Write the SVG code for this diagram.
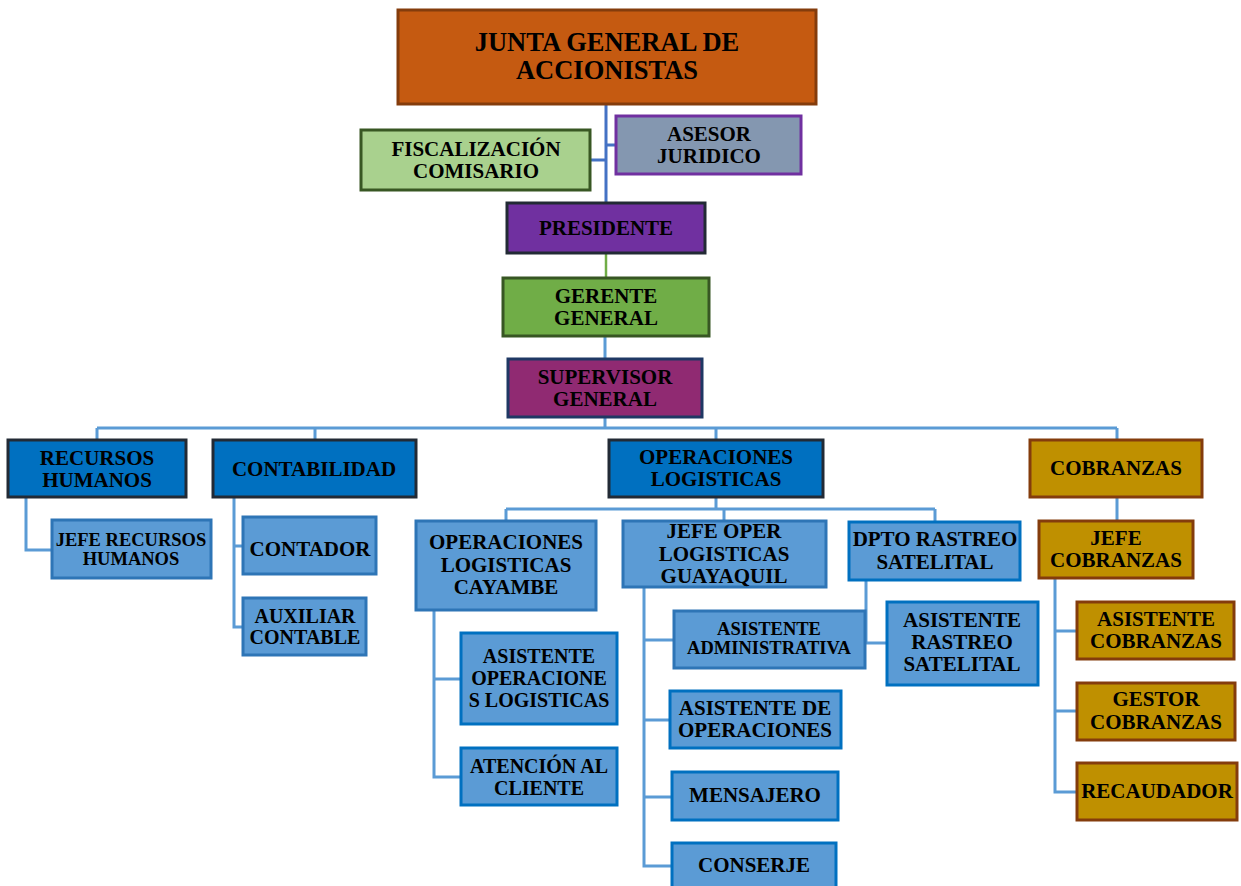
<svg xmlns="http://www.w3.org/2000/svg" width="1241" height="886" viewBox="0 0 1241 886">
<style>
text{font-family:"Liberation Serif","Times New Roman",serif;font-weight:bold;fill:#000;text-anchor:middle;font-size:21px}
.big{font-size:26.5px}
.sm{font-size:18.5px}
.md{font-size:20px}
rect{stroke-width:3}
.c{fill:none;stroke:#5B9BD5;stroke-width:3}
.ct{fill:none;stroke:#4472C4;stroke-width:3}
.cg{fill:none;stroke:#70AD47;stroke-width:2.5}
.hd{fill:#0070C0;stroke:#222A35}
.ch{fill:#5B9BD5;stroke:#2E75B6}
.cb{fill:#5B9BD5;stroke:#0070C0}
.gold{fill:#BF9000;stroke:#843C0C}
</style>
<rect width="1241" height="886" fill="#fff" stroke="none"/>
<g id="connectors">
<path class="ct" d="M606 104V203M606 145H616M590 160H606"/>
<path class="cg" d="M606 253V278"/>
<path class="c" d="M605 336V359M605 417V428M97 428H1117M97 428V440M315 428V440M716 428V440M1117 428V440"/>
<path class="c" d="M26 497V550H52"/>
<path class="c" d="M234 497V627H243M234 546H243"/>
<path class="c" d="M716 497V509M506 509H935M506 509V521M724 509V521M935 509V522"/>
<path class="c" d="M434 610V777H461M434 679H461"/>
<path class="c" d="M644 587V866H672M644 640H674M644 720H670M644 797H672"/>
<path class="c" d="M866 580V643H887"/>
<path class="c" d="M1117 497V521M1055 578V792H1077M1055 631H1077M1055 711H1077"/>
</g>
<g id="junta"><rect x="398" y="10" width="418" height="94" fill="#C55A11" stroke="#843C0C"/><text class="big" x="607" y="51">JUNTA GENERAL DE</text><text class="big" x="607" y="79">ACCIONISTAS</text></g>
<g id="fiscalizacion"><rect x="361" y="130" width="229" height="60" fill="#A9D18E" stroke="#385723"/><text x="476" y="156">FISCALIZACIÓN</text><text x="476" y="178">COMISARIO</text></g>
<g id="asesor"><rect x="616" y="116" width="185" height="58" fill="#8497B0" stroke="#7030A0"/><text x="709" y="141">ASESOR</text><text x="709" y="163">JURIDICO</text></g>
<g id="presidente"><rect x="507" y="203" width="198" height="50" fill="#7030A0" stroke="#222A35"/><text x="606" y="235">PRESIDENTE</text></g>
<g id="gerente"><rect x="503" y="278" width="206" height="58" fill="#70AD47" stroke="#375623"/><text x="606" y="303">GERENTE</text><text x="606" y="325">GENERAL</text></g>
<g id="supervisor"><rect x="508" y="359" width="194" height="58" fill="#902A72" stroke="#1F3864"/><text x="605" y="384">SUPERVISOR</text><text x="605" y="406">GENERAL</text></g>
<g id="rrhh"><rect x="8" y="440" width="178" height="57" class="hd"/><text x="97" y="465">RECURSOS</text><text x="97" y="487">HUMANOS</text></g>
<g id="contabilidad"><rect x="213" y="440" width="203" height="57" class="hd"/><text x="314" y="476">CONTABILIDAD</text></g>
<g id="operaciones"><rect x="609" y="440" width="214" height="57" class="hd"/><text x="716" y="464">OPERACIONES</text><text x="716" y="486">LOGISTICAS</text></g>
<g id="cobranzas"><rect x="1030" y="440" width="172" height="57" class="gold"/><text x="1116" y="475">COBRANZAS</text></g>
<g id="jeferh"><rect x="52" y="520" width="159" height="58" class="ch"/><text class="sm" x="131" y="546">JEFE RECURSOS</text><text class="sm" x="131" y="565">HUMANOS</text></g>
<g id="contador"><rect x="243" y="517" width="133" height="57" class="ch"/><text x="310" y="556">CONTADOR</text></g>
<g id="auxiliar"><rect x="243" y="598" width="123" height="57" class="ch"/><text class="md" x="305" y="623">AUXILIAR</text><text class="md" x="305" y="644">CONTABLE</text></g>
<g id="cayambe"><rect x="416" y="521" width="180" height="89" class="ch"/><text x="506" y="549">OPERACIONES</text><text x="506" y="572">LOGISTICAS</text><text x="506" y="594">CAYAMBE</text></g>
<g id="guayaquil"><rect x="623" y="521" width="203" height="66" class="ch"/><text x="724" y="538">JEFE OPER</text><text x="724" y="561">LOGISTICAS</text><text x="724" y="583">GUAYAQUIL</text></g>
<g id="rastreo"><rect x="849" y="522" width="171" height="58" class="cb"/><text x="935" y="546">DPTO RASTREO</text><text x="935" y="569">SATELITAL</text></g>
<g id="jefecob"><rect x="1039" y="521" width="154" height="57" class="gold"/><text x="1116" y="545">JEFE</text><text x="1116" y="567">COBRANZAS</text></g>
<g id="asistops"><rect x="461" y="633" width="156" height="91" class="cb"/><text class="md" x="539" y="663">ASISTENTE</text><text class="md" x="539" y="685">OPERACIONE</text><text class="md" x="539" y="707">S LOGISTICAS</text></g>
<g id="atencion"><rect x="461" y="748" width="156" height="57" class="cb"/><text class="md" x="539" y="773">ATENCIÓN AL</text><text class="md" x="539" y="795">CLIENTE</text></g>
<g id="asistadmin"><rect x="674" y="611" width="191" height="57" class="ch"/><text class="sm" x="769" y="635">ASISTENTE</text><text class="sm" x="769" y="654">ADMINISTRATIVA</text></g>
<g id="asistrastreo"><rect x="887" y="602" width="151" height="83" class="cb"/><text x="962" y="627">ASISTENTE</text><text x="962" y="649">RASTREO</text><text x="962" y="671">SATELITAL</text></g>
<g id="asistdeops"><rect x="670" y="691" width="171" height="57" class="cb"/><text x="755" y="715">ASISTENTE DE</text><text x="755" y="737">OPERACIONES</text></g>
<g id="mensajero"><rect x="672" y="772" width="166" height="48" class="cb"/><text x="755" y="802">MENSAJERO</text></g>
<g id="conserje"><rect x="672" y="843" width="164" height="50" class="cb"/><text x="754" y="872">CONSERJE</text></g>
<g id="asistcob"><rect x="1077" y="602" width="157" height="57" class="gold"/><text x="1156" y="626">ASISTENTE</text><text x="1156" y="648">COBRANZAS</text></g>
<g id="gestor"><rect x="1077" y="683" width="158" height="57" class="gold"/><text x="1156" y="706">GESTOR</text><text x="1156" y="729">COBRANZAS</text></g>
<g id="recaudador"><rect x="1077" y="763" width="160" height="57" class="gold"/><text x="1157" y="798">RECAUDADOR</text></g>
</svg>
